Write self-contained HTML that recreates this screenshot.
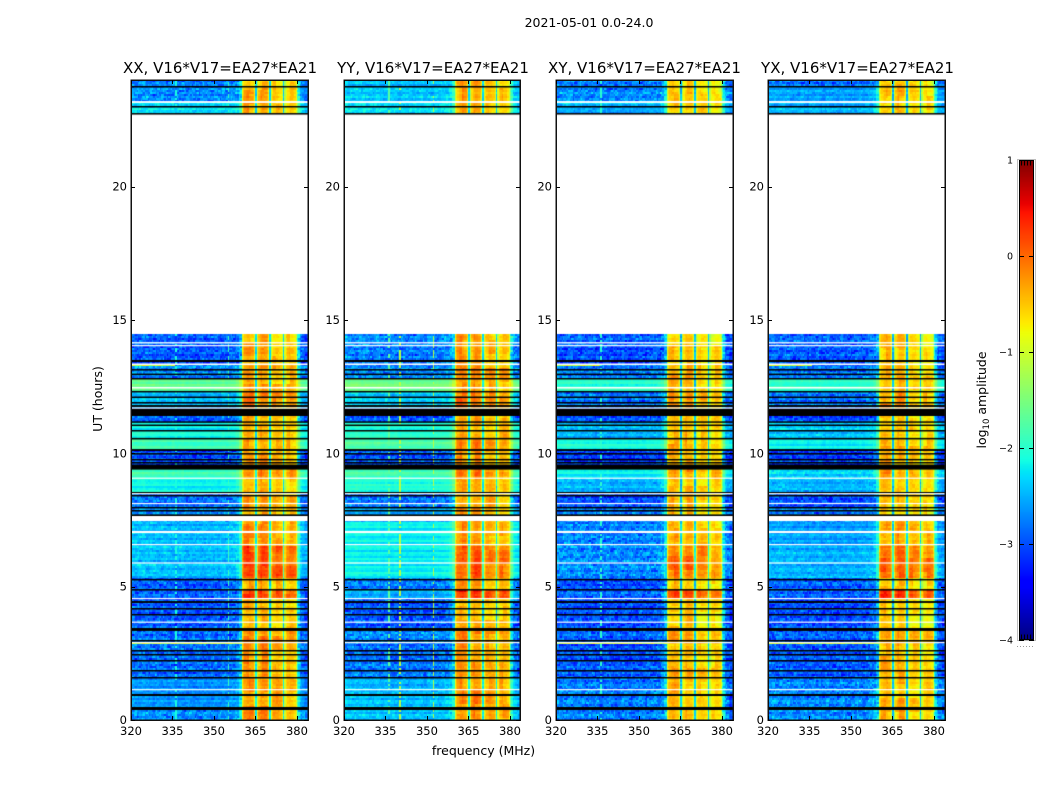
<!DOCTYPE html>
<html lang="en">
<head>
<meta charset="utf-8">
<title>2021-05-01 0.0-24.0</title>
<style>
html,body{margin:0;padding:0;background:#fff;}
#figure{position:relative;width:1050px;height:800px;overflow:hidden;background:#fff;font-family:"DejaVu Sans","Liberation Sans",sans-serif;}
canvas{position:absolute;display:block;}
#overlay{position:absolute;left:0;top:0;}
text{font-family:"DejaVu Sans","Liberation Sans",sans-serif;fill:#000;}
</style>
</head>
<body>
<div id="figure">
<canvas id="heat-XX" width="177" height="640" style="left:131px;top:80px"></canvas>
<canvas id="heat-YY" width="177" height="640" style="left:344px;top:80px"></canvas>
<canvas id="heat-XY" width="177" height="640" style="left:556px;top:80px"></canvas>
<canvas id="heat-YX" width="177" height="640" style="left:768px;top:80px"></canvas>
<canvas id="colorbar" width="15" height="480" style="left:1019px;top:160px"></canvas>
<svg id="overlay" width="1050" height="800" viewBox="0 0 1050 800">
  <text x="589" y="27" font-size="12.5" text-anchor="middle">2021-05-01 0.0-24.0</text>
  <text x="220" y="73" font-size="15" text-anchor="middle">XX, V16*V17=EA27*EA21</text>
  <text x="433" y="73" font-size="15" text-anchor="middle">YY, V16*V17=EA27*EA21</text>
  <text x="644.5" y="73" font-size="15" text-anchor="middle">XY, V16*V17=EA27*EA21</text>
  <text x="857.5" y="73" font-size="15" text-anchor="middle">YX, V16*V17=EA27*EA21</text>
  <text x="483.5" y="755" font-size="12.5" text-anchor="middle">frequency (MHz)</text>
  <text transform="translate(102,399) rotate(-90)" font-size="12.5" text-anchor="middle">UT (hours)</text>
  <text transform="translate(986,400) rotate(-90)" font-size="12.5" text-anchor="middle">log<tspan font-size="8.5" dy="3">10</tspan><tspan dy="-3"> amplitude</tspan></text>
</svg>
</div>
<script>
// ---- Categories and axis ticks ----
const polarizations = ['XX', 'YY', 'XY', 'YX'];
const freqTickLabels = [320, 335, 350, 365, 380];
const utTickLabels = [0, 5, 10, 15, 20];
const colorbarTickLabels = [1, 0, -1, -2, -3, -4];

// ---- Time bands: start UT (hours) of each band ----
const bandStartUT = [0, .45, 1.125, 1.61, 2.25, 2.85, 3.45, 4.575, 4.875, 5.29, 6.56, 7.39, 7.95, 8.51, 9.07, 9.56, 10.16, 10.54, 10.84, 11.14, 11.4, 11.7, 12.3, 12.83, 13.35, 14.03, 14.47, 22.725, 22.99, 23.14, 23.74];

// ---- log10 amplitude outside the passband, one value per band (null = no data) ----
const levelXX = [-2.7, -2.65, -2.65, -2.85, -2.85, -2.85, -2.95, -2.9, -2.95, -2.45, -2.45, -2.7, -2.85, -2.15, -1.9, -3.0, -1.9, -2.1, -2.2, -2.95, -3.2, -2.5, -1.65, -2.7, -2.95, -2.9, null, -2.3, -2.4, -2.7, -2.75];
const levelYY = [-2.4, -2.4, -2.5, -2.8, -2.9, -2.7, -2.95, -2.55, -2.75, -2.2, -2.2, -2.5, -2.85, -2.05, -1.85, -2.95, -1.8, -2.0, -2.05, -2.95, -3.2, -2.4, -1.55, -2.7, -2.8, -2.7, null, -2.25, -2.35, -2.4, -2.45];
const levelXY = [-2.75, -2.75, -2.8, -2.95, -3.0, -2.9, -3.0, -2.9, -3.0, -2.7, -2.75, -2.8, -3.0, -2.5, -2.2, -3.1, -2.1, -2.5, -2.4, -3.0, -3.2, -2.8, -2.0, -2.8, -3.0, -2.9, null, -2.6, -2.4, -2.7, -2.8];
const levelYX = [-2.7, -2.7, -2.75, -2.95, -2.95, -2.9, -3.0, -2.9, -2.9, -2.5, -2.6, -2.75, -3.0, -2.5, -2.3, -3.1, -2.2, -2.45, -2.4, -3.0, -3.2, -2.8, -2.0, -2.8, -2.95, -2.9, null, -2.5, -2.5, -2.6, -2.85];

// ---- log10 amplitude inside the passband, one value per band ----
const passXX = [-.3, -.3, -.3, -.3, -.35, -.25, -.5, .15, -.4, .1, -.3, -.4, -.35, -.45, -.2, -.35, -.35, -.45, -.45, -.45, -.5, -.2, -.4, -.3, -.4, -.45, null, -.45, -.45, -.45, -.5];
const passYY = [-.25, -.25, -.3, -.3, -.35, -.25, -.45, .2, -.35, .0, -.3, -.35, -.35, -.4, -.15, -.35, -.3, -.35, -.4, -.4, -.5, -.15, -.35, -.25, -.35, -.4, null, -.4, -.4, -.4, -.45];
const passXY = [-.5, -.5, -.5, -.45, -.5, -.4, -.6, .15, -.55, -.15, -.45, -.55, -.5, -.55, -.35, -.5, -.45, -.5, -.55, -.55, -.6, -.35, -.55, -.45, -.55, -.6, null, -.55, -.55, -.55, -.6];
const passYX = [-.5, -.5, -.5, -.45, -.5, -.4, -.6, .15, -.55, -.05, -.4, -.55, -.5, -.55, -.35, -.5, -.45, -.5, -.55, -.55, -.6, -.35, -.55, -.45, -.55, -.6, null, -.55, -.55, -.55, -.6];

// ---- Flagged time ranges, [start UT, end UT] ----
const blackRangesUT = [[.375, .4875], [.9, .975], [1.575, 1.6125], [1.82, 1.875], [2.21, 2.25], [2.44, 2.475], [2.57, 2.625], [2.96, 3.0], [3.34, 3.45], [3.94, 3.975], [4.16, 4.2], [4.39, 4.46], [4.875, 4.91], [5.25, 5.29], [7.65, 7.71], [7.84, 7.875], [7.95, 7.99], [8.4, 8.44], [8.51, 8.55], [9.39, 9.58], [9.64, 9.675], [9.75, 9.79], [9.96, 10.01], [10.09, 10.16], [10.52, 10.58], [10.82, 10.875], [11.04, 11.08], [11.16, 11.2], [11.4, 11.68], [11.74, 11.81], [11.89, 11.925], [12.09, 12.13], [12.3, 12.34], [12.79, 12.825], [12.96, 12.99], [13.125, 13.16], [13.425, 13.5], [22.725, 22.76], [23.0, 23.025], [23.74, 23.775]];
const whiteRangesUT = [[1.125, 1.16], [2.89, 2.925], [3.66, 3.69], [4.54, 4.575], [5.87, 5.91], [6.56, 6.6], [7.01, 7.09], [7.46, 7.65], [8.1, 8.14], [8.475, 8.51], [9.06, 9.09], [11.68, 11.72], [12.43, 12.49], [13.31, 13.37], [14.025, 14.06], [14.12, 14.17], [23.14, 23.21]];

// ---- Bright horizontal streaks: UT, last half-MHz channel, log10 amplitude ----
const streakUT = [2.85, 13.28];
const streakLastChannel = [80, 32];
const streakLevel = [-1.0, -1.0];
const streakPolarizations = ['XX', 'XY', 'YX'];

// ---- Channel shape (half-MHz channels from 320 MHz) ----
const channelOffset = [.05, .02, .04, .03, .06, .02, .0, .03, .02, .0, -.02, .0, .03, -.02, -.04, .0, -.03, -.02, .02, -.03, -.05, -.02, -.04, -.05, -.02, -.04, -.03, .0, -.02, -.04, -.01, -.03, .0, .02, -.01, .02, .04, .05, .15, .45];
const edgeOffset = [.85, .5, .15, .05, .0, -.05, -.1, -.05];
const passShape = [-.5, -.12, .02, .08, .12, .12, .1, .05, -.02, -.35, -1.9, -.6, -.12, .02, .1, .12, .12, .08, .0, -.35, -1.9, -.6, -.22, -.1, -.06, -.04, -.06, -.1, -.15, -.4, -1.9, -.6, -.28, -.15, -.08, -.06, -.08, -.12, -.2, -.5];

// ---- Narrow interference, [half-MHz channel, log10 amplitude] ----
const rfiXX = [[32, -2.1], [70, -1.9]];
const rfiYY = [[32, -1.7], [40, -1.15], [64, -1.15]];
const rfiXY = [[32, -2.0]];
const rfiYX = [];

// ---- Hand-typed row, cell and passband-blob texture tables ----
const rowRipple = [.3, -.5, .1, .8, -.2, -.9, .4, .0, -.3, .7, -.6, .2, .9, -.4, -.1, .5, -.8, .3, -.2, .6, -.7, .1, .4, -1, .2, .7, -.3, -.5, .8, .0, -.6, .3, .5, -.2, -.8, .6, .1];
const rowJump = [17, 4, 52, 29, 8, 41, 23, 59, 11, 36, 2, 47, 19, 31, 55, 6, 43, 14, 27, 50, 9, 38, 21, 57, 1, 33, 45, 12, 25, 53, 16, 39, 5, 48, 28, 10, 56, 20, 35, 3, 44, 15, 30];
const speckleA = [.2, -.7, .9, -.3, .1, .6, -.9, .4, -.2, .8, -.5, .0, .7, -.8, .3, -.1, .5, -.6, 1, -.4, .2, -.9, .6, .1, -.3, .8, -.7, .4, -.1, .9, -.5, .3, -.8, .0, .7, -.2, .5, -1, .6, -.4, .2, .9, -.6, .1, -.3, .7, -.9, .4, .0, -.5, .8, -.2, .3, -.7, .6, -.1, 1, -.8, .2, -.4, .5];
const speckleB = [-.4, .7, .1, -.8, .5, -.2, .9, -.6, .3, .0, -.9, .6, -.1, .4, -.7, .8, .2, -.5, 1, -.3, .1, -.8, .6, -.2, .4, .9, -.6, .0, -.4, .7, -.9, .3, .5, -.1, -.7, .8, .2, -.5, .6, -1, .3, .1, -.6, .9, -.2, .4, -.8];
const blobTable = [.5, -.8, .2, 1, -.4, -1, .7, .1, -.6, .9, -.2, -.7, .4, .8, -.9, .3, -.3, .6, -.5, .0, 1, -.6, .2, -.8, .5, .7, -1, .1, -.2, .9, -.4];

// ---- Axis functions ----
const plotWidth = 177;
const plotHeight = 640;
const freqMin = 320;
const freqMax = 384;
const utMax = 24;
const rowCount = 320;
const channelsPerMHz = 2;
const channelCount = 128;
const passFirstChannel = 80;
const xAxis = mhz => (mhz - freqMin) / (freqMax - freqMin) * plotWidth;
const yAxis = ut => (utMax - ut) / utMax * plotHeight;

// ---- jet colour map, log10 amplitude -4..1 ----
const jetRed = [[0, 0], [.35, 0], [.66, 1], [.89, 1], [1, .5]];
const jetGreen = [[0, 0], [.125, 0], [.375, 1], [.64, 1], [.91, 0], [1, 0]];
const jetBlue = [[0, .5], [.11, 1], [.34, 1], [.65, 0], [1, 0]];
function channelAt(stops, t) {
  for (let i = 1; i < stops.length; i++) {
    if (t <= stops[i][0]) {
      const a = stops[i - 1], b = stops[i];
      return a[1] + (b[1] - a[1]) * (t - a[0]) / (b[0] - a[0]);
    }
  }
  return stops[stops.length - 1][1];
}
function colorOf(value) {
  const t = Math.min(1, Math.max(0, (value + 4) / 5));
  return 'rgb(' + Math.round(255 * channelAt(jetRed, t)) + ',' + Math.round(255 * channelAt(jetGreen, t)) + ',' + Math.round(255 * channelAt(jetBlue, t)) + ')';
}

function bandIndexAt(ut) {
  let found = 0;
  for (let i = 0; i < bandStartUT.length; i++) {
    if (bandStartUT[i] <= ut) found = i;
  }
  return found;
}

function fillRange(ctx, range, color, minHeight) {
  const top = yAxis(range[1]);
  const bottom = yAxis(range[0]);
  ctx.fillStyle = color;
  ctx.fillRect(0, top, plotWidth, Math.max(minHeight, bottom - top));
}

function drawPanel(pol, levels, passes, rfi, seed) {
  const ctx = document.getElementById('heat-' + pol).getContext('2d');
  ctx.fillStyle = '#fff';
  ctx.fillRect(0, 0, plotWidth, plotHeight);
  const utStep = utMax / rowCount;
  const passEnd = passFirstChannel + passShape.length;
  for (let r = 0; r < rowCount; r++) {
    const ut = (r + .5) * utStep;
    const band = bandIndexAt(ut);
    const level = levels[band];
    const pass = passes[band];
    if (level === null) continue;
    const y0 = Math.round(yAxis(r * utStep + utStep));
    const y1 = Math.round(yAxis(r * utStep));
    const ripple = rowRipple[(r + seed) % rowRipple.length];
    const noisy = level < -2.65 ? .38 : (level < -2.2 ? .2 : .07);
    const blobRow = Math.floor((r + seed) / 7);
    const jumpA = rowJump[r % rowJump.length];
    const jumpB = rowJump[(r * 2 + seed) % rowJump.length];
    for (let c = 0; c < channelCount; c++) {
      const texA = speckleA[(c * 7 + jumpA + seed) % speckleA.length];
      const texB = speckleB[(c * 11 + jumpB + r) % speckleB.length];
      let v;
      if (c >= passFirstChannel && c < passEnd) {
        const p = c - passFirstChannel;
        const blob = blobTable[(blobRow * 5 + Math.floor(p / 5) * 3 + seed) % blobTable.length];
        const shape = passShape[p];
        v = shape < -1.5
          ? pass + shape + .15 * texA
          : pass + shape + .08 * texA + .06 * texB + .08 * ripple + .17 * blob;
      } else {
        const offset = c < passFirstChannel ? channelOffset[Math.floor(c / channelsPerMHz)] : edgeOffset[c - passEnd];
        v = level + offset + .16 * ripple + noisy * (texA + texB) * .6;
        for (let k = 0; k < rfi.length; k++) {
          if (rfi[k][0] === c && texB > -.2) v = Math.max(v, rfi[k][1]);
        }
      }
      const x0 = Math.round(xAxis(freqMin + c / channelsPerMHz));
      const x1 = Math.round(xAxis(freqMin + (c + 1) / channelsPerMHz));
      ctx.fillStyle = colorOf(v);
      ctx.fillRect(x0, y0, x1 - x0, y1 - y0);
    }
  }
  if (streakPolarizations.indexOf(pol) >= 0) {
    streakUT.forEach((ut, i) => {
      for (let c = 0; c < streakLastChannel[i]; c++) {
        const texA = speckleA[(c * 7 + seed) % speckleA.length];
        const x0 = Math.round(xAxis(freqMin + c / channelsPerMHz));
        const x1 = Math.round(xAxis(freqMin + (c + 1) / channelsPerMHz));
        ctx.fillStyle = colorOf(streakLevel[i] + .35 * texA);
        ctx.fillRect(x0, Math.round(yAxis(ut)) - 1, x1 - x0, 1);
      }
    });
  }
  blackRangesUT.forEach(range => fillRange(ctx, range, '#000', 1.5));
  whiteRangesUT.forEach(range => fillRange(ctx, range, '#fff', 1.2));
}

drawPanel('XX', levelXX, passXX, rfiXX, 0);
drawPanel('YY', levelYY, passYY, rfiYY, 13);
drawPanel('XY', levelXY, passXY, rfiXY, 23);
drawPanel('YX', levelYX, passYX, rfiYX, 31);

// ---- Colour bar ----
const cbCtx = document.getElementById('colorbar').getContext('2d');
const cbTop = colorbarTickLabels[0];
const cbBottom = colorbarTickLabels[colorbarTickLabels.length - 1];
for (let py = 0; py < 480; py++) {
  cbCtx.fillStyle = colorOf(cbTop - (cbTop - cbBottom) * (py + .5) / 480);
  cbCtx.fillRect(0, py, 15, 1);
}

// ---- Axes overlay ----
const svg = document.getElementById('overlay');
const SVG_NS = 'http://www.w3.org/2000/svg';
function make(tag, attrs) {
  const el = document.createElementNS(SVG_NS, tag);
  Object.keys(attrs).forEach(k => el.setAttribute(k, attrs[k]));
  svg.appendChild(el);
  return el;
}
const panelLeft = { XX: 131, YY: 344, XY: 556, YX: 768 };
const panelTop = 80;
const tickLength = 4;
polarizations.forEach(pol => {
  const left = panelLeft[pol];
  const width = pol === 'YY' ? 176 : 177;
  const frame = make('rect', { x: left + .25, y: panelTop + .25, width: width, height: plotHeight, fill: 'none', stroke: '#111', 'stroke-width': 1.5 });
  
  
  freqTickLabels.forEach(mhz => {
    const x = Math.round(left + xAxis(mhz)) + .5;
    const bottomTick = make('line', { x1: x, x2: x, y1: panelTop + plotHeight, y2: panelTop + plotHeight - tickLength, stroke: '#000' });
    
    
    const topTick = make('line', { x1: x, x2: x, y1: panelTop, y2: panelTop + tickLength, stroke: '#000' });
    
    
    const label = make('text', { x: left + xAxis(mhz), y: 735, 'font-size': 11.5, 'text-anchor': 'middle' });
    label.textContent = String(mhz);
    
    
  });
  utTickLabels.forEach(ut => {
    const y = Math.round(panelTop + yAxis(ut)) + .5;
    const leftTick = make('line', { x1: left, x2: left + tickLength, y1: y, y2: y, stroke: '#000' });
    
    
    const rightTick = make('line', { x1: left + width, x2: left + width - tickLength, y1: y, y2: y, stroke: '#000' });
    
    
    const label = make('text', { x: left - 4, y: panelTop + yAxis(ut) + 4, 'font-size': 11.5, 'text-anchor': 'end' });
    label.textContent = String(ut);
    
    
  });
});

const cbLeft = 1019;
const cbRight = 1034;
const cbY = v => 160 + (cbTop - v) / (cbTop - cbBottom) * 480;
const cbHalo = make('rect', { x: cbLeft - 1.5, y: 159.5, width: cbRight - cbLeft + 3, height: 481, fill: 'none', stroke: '#bdbdbd', 'stroke-width': 1 });


const cbFrame = make('rect', { x: cbLeft + .5, y: 160.5, width: cbRight - cbLeft - 1, height: 479, fill: 'none', stroke: '#000', 'stroke-width': 1 });


colorbarTickLabels.forEach(v => {
  const y = Math.round(cbY(v)) + .5;
  const tickL = make('line', { x1: cbLeft, x2: cbLeft + 5, y1: y, y2: y, stroke: '#000' });
  
  
  const tickR = make('line', { x1: cbRight - 5, x2: cbRight, y1: y, y2: y, stroke: '#000' });
  
  
  const label = make('text', { x: 1013, y: cbY(v) + 3.5, 'font-size': 9.5, 'text-anchor': 'end' });
  label.textContent = v < 0 ? '\u2212' + Math.abs(v) : String(v);
  
  
});
const minorTop = make('line', { x1: cbLeft + 2, x2: cbRight - 1, y1: 163, y2: 163, stroke: '#000', 'stroke-width': 5, 'stroke-dasharray': '1 2' });


const minorBottom = make('line', { x1: cbLeft + 2, x2: cbRight - 1, y1: 637, y2: 637, stroke: '#000', 'stroke-width': 5, 'stroke-dasharray': '1 2' });


const minorDots = make('line', { x1: 1017, x2: 1035, y1: 646.5, y2: 646.5, stroke: '#999', 'stroke-width': 1, 'stroke-dasharray': '1 2' });


</script>
</body>
</html>
